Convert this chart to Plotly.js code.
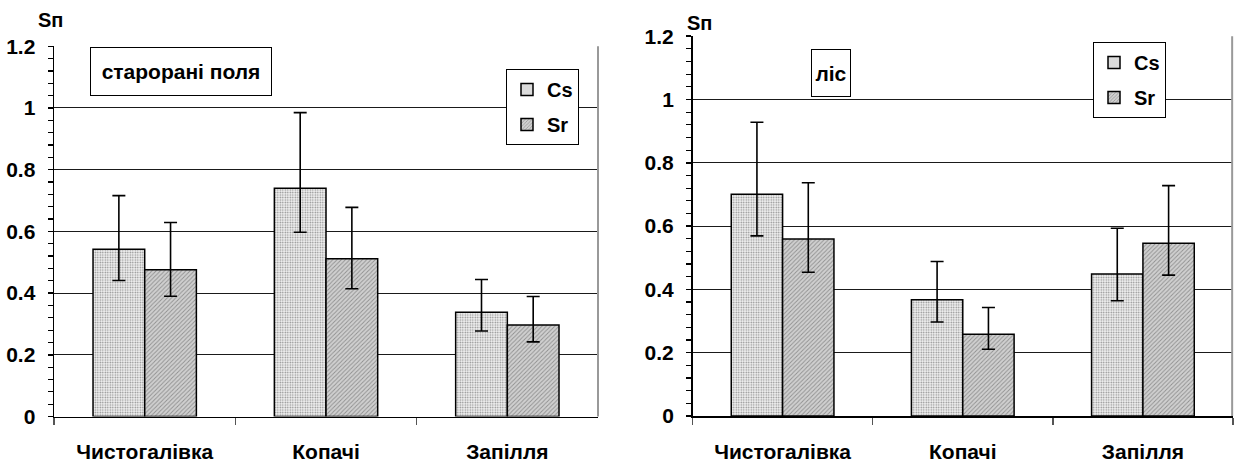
<!DOCTYPE html>
<html>
<head>
<meta charset="utf-8">
<script src="https://cdn.plot.ly/plotly-3.0.1.min.js"></script>
<style>html,body{margin:0;padding:0;background:#fff;}#chart{width:1234px;height:467px;}</style>
</head>
<body>
<div id="chart"></div>
<script>
// ---- data ----
const categories = ['Чистогалівка', 'Копачі', 'Запілля'];
const seriesNames = ['Cs', 'Sr'];
const panelTitles = ['старорані поля', 'ліс'];
const axisLabel = 'Sп';

// left panel: старорані поля
const fieldCs = [0.542, 0.740, 0.338];
const fieldCsErrPlus = [0.174, 0.245, 0.106];
const fieldCsErrMinus = [0.101, 0.143, 0.061];
const fieldSr = [0.476, 0.511, 0.297];
const fieldSrErrPlus = [0.153, 0.167, 0.092];
const fieldSrErrMinus = [0.086, 0.097, 0.055];

// right panel: ліс
const forestCs = [0.701, 0.367, 0.449];
const forestCsErrPlus = [0.227, 0.121, 0.144];
const forestCsErrMinus = [0.132, 0.070, 0.085];
const forestSr = [0.559, 0.258, 0.546];
const forestSrErrPlus = [0.178, 0.085, 0.182];
const forestSrErrMinus = [0.105, 0.047, 0.101];

// ---- styling ----
const FONT = '"Liberation Sans", Arial, sans-serif';
const csMarker = {
  color: '#efefef',
  line: {color: '#000', width: 1.5},
  pattern: {shape: '.', fgcolor: '#909090', bgcolor: '#f2f2f2', size: 2.5, solidity: 0.3}
};
const srMarker = {
  color: '#c8c8c8',
  line: {color: '#000', width: 1.5},
  pattern: {shape: '/', fgcolor: '#909090', bgcolor: '#d0d0d0', size: 3, solidity: 0.3}
};
function err(plus, minus) {
  return {type: 'data', symmetric: false, array: plus, arrayminus: minus,
          color: '#000', thickness: 1.6, width: 6.5};
}

const traces = [
  {type: 'bar', name: seriesNames[0], x: categories, y: fieldCs, marker: csMarker,
   error_y: err(fieldCsErrPlus, fieldCsErrMinus), xaxis: 'x', yaxis: 'y',
   legend: 'legend', legendgroup: 'a'},
  {type: 'bar', name: seriesNames[1], x: categories, y: fieldSr, marker: srMarker,
   error_y: err(fieldSrErrPlus, fieldSrErrMinus), xaxis: 'x', yaxis: 'y',
   legend: 'legend', legendgroup: 'b'},
  {type: 'bar', name: seriesNames[0], x: categories, y: forestCs, marker: csMarker,
   error_y: err(forestCsErrPlus, forestCsErrMinus), xaxis: 'x2', yaxis: 'y2',
   legend: 'legend2', legendgroup: 'c'},
  {type: 'bar', name: seriesNames[1], x: categories, y: forestSr, marker: srMarker,
   error_y: err(forestSrErrPlus, forestSrErrMinus), xaxis: 'x2', yaxis: 'y2',
   legend: 'legend2', legendgroup: 'd'}
];

const tickFont = {family: FONT, size: 21, color: '#000', weight: 'bold'};

function xAxis(domain, anchor) {
  return {
    domain: domain, anchor: anchor, type: 'category',
    tickson: 'boundaries', ticks: 'outside', ticklen: 7, tickcolor: '#555', tickwidth: 1.5,
    showline: true, linecolor: '#000', linewidth: 1.5,
    showgrid: false, zeroline: false,
    tickfont: tickFont, ticklabelstandoff: 16, fixedrange: true
  };
}
function yAxis(domain, anchor) {
  return {
    domain: domain, anchor: anchor, range: [0, 1.2],
    tickmode: 'linear', tick0: 0, dtick: 0.2,
    ticks: 'outside', ticklen: 5, tickcolor: '#000', tickwidth: 1.5,
    minor: {tickmode: 'linear', tick0: 0, dtick: 0.04, ticks: 'outside', ticklen: 5,
            tickcolor: '#000', tickwidth: 1.2, showgrid: false},
    showline: true, linecolor: '#000', linewidth: 1.5,
    showgrid: true, gridcolor: '#1a1a1a', gridwidth: 1, zeroline: false,
    tickfont: tickFont, ticklabelstandoff: 8, fixedrange: true
  };
}

const legendBase = {
  font: {family: FONT, size: 20, color: '#000', weight: 'bold'},
  bgcolor: '#fff', bordercolor: '#000', borderwidth: 1,
  traceorder: 'grouped', tracegroupgap: 6, itemwidth: 30,
  xanchor: 'left', yanchor: 'top'
};

const layout = {
  width: 1234, height: 467,
  margin: {l: 0, r: 0, t: 0, b: 0},
  paper_bgcolor: '#fff', plot_bgcolor: '#fff',
  barmode: 'group', bargap: 0.43, bargroupgap: 0,
  showlegend: true,
  xaxis: xAxis([0.0438, 0.4846], 'y'),
  yaxis: yAxis([0.1081, 0.9009], 'x'),
  xaxis2: xAxis([0.5612, 0.9992], 'y2'),
  yaxis2: yAxis([0.1092, 0.9225], 'x2'),
  legend: Object.assign({}, legendBase, {x: 506 / 1234, y: 1 - 69 / 467}),
  legend2: Object.assign({}, legendBase, {x: 1093 / 1234, y: 1 - 42 / 467}),
  annotations: [
    {text: panelTitles[0], xref: 'paper', yref: 'paper', x: 181 / 1234, y: 1 - 71.5 / 467,
     xanchor: 'center', yanchor: 'middle', showarrow: false,
     font: {family: FONT, size: 21, color: '#000', weight: 'bold'},
     bgcolor: '#fff', bordercolor: '#000', borderwidth: 1, borderpad: 0, width: 180, height: 47},
    {text: panelTitles[1], xref: 'paper', yref: 'paper', x: 831 / 1234, y: 1 - 73 / 467,
     xanchor: 'center', yanchor: 'middle', showarrow: false,
     font: {family: FONT, size: 21, color: '#000', weight: 'bold'},
     bgcolor: '#fff', bordercolor: '#000', borderwidth: 1, borderpad: 0, width: 38, height: 46},
    {text: axisLabel, xref: 'paper', yref: 'paper', x: 50 / 1234, y: 1 - 20 / 467,
     xanchor: 'center', yanchor: 'middle', showarrow: false,
     font: {family: FONT, size: 20, color: '#000', weight: 'bold'}},
    {text: axisLabel, xref: 'paper', yref: 'paper', x: 699 / 1234, y: 1 - 23 / 467,
     xanchor: 'center', yanchor: 'middle', showarrow: false,
     font: {family: FONT, size: 20, color: '#000', weight: 'bold'}}
  ],
  shapes: [
    {type: 'line', xref: 'paper', yref: 'paper', x0: 0.4846, x1: 0.4846, y0: 0.1081, y1: 0.9009,
     line: {color: '#999', width: 2}},
    {type: 'line', xref: 'paper', yref: 'paper', x0: 0.9985, x1: 0.9985, y0: 0.1092, y1: 0.9225,
     line: {color: '#999', width: 2}}
  ]
};

Plotly.newPlot('chart', traces, layout, {displayModeBar: false, staticPlot: true});
</script>
</body>
</html>
